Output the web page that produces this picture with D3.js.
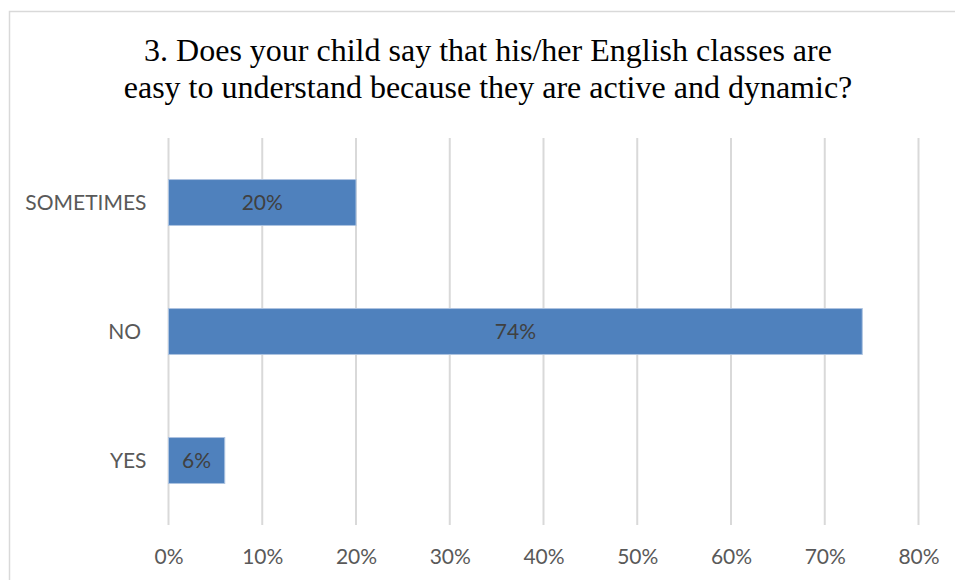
<!DOCTYPE html>
<html>
<head>
<meta charset="utf-8">
<script src="https://cdn.jsdelivr.net/npm/d3@7"></script>
<style>
  html, body { margin: 0; padding: 0; background: #ffffff; }
  svg { display: block; }
</style>
</head>
<body>
<svg id="chart" width="955" height="580"></svg>
<script>
// Survey answers, top to bottom
const categories = ["SOMETIMES", "NO", "YES"];
const shares = [0.20, 0.74, 0.06];
const tickValues = [0, 0.1, 0.2, 0.3, 0.4, 0.5, 0.6, 0.7, 0.8];
const titleLines = [
  "3. Does your child say that his/her English classes are",
  "easy to understand because they are active and dynamic?"
];

const svg = d3.select("#chart");
const W = 955, H = 580;
const plot = { left: 168.5, right: 918.5, top: 138, bottom: 525 };

// Chart frame
svg.append("rect")
  .attr("x", 9.5).attr("y", 11.5)
  .attr("width", W).attr("height", H)
  .attr("fill", "#ffffff")
  .attr("stroke", "#d9d9d9").attr("stroke-width", 1.5);

// Title
svg.append("g")
  .selectAll("text")
  .data(titleLines)
  .join("text")
  .attr("x", 488)
  .attr("y", (d, i) => 61 + i * 36.5)
  .attr("text-anchor", "middle")
  .attr("font-family", "'Liberation Serif', 'Times New Roman', serif")
  .attr("font-size", 32)
  .attr("fill", "#000000")
  .text(d => d);

const x = d3.scaleLinear().domain([0, 0.8]).range([plot.left, plot.right]);
const y = d3.scaleBand()
  .domain(categories)
  .range([plot.top, plot.bottom])
  .paddingInner(0.644)
  .paddingOuter(0.322);

// Vertical gridlines
svg.append("g")
  .selectAll("line")
  .data(tickValues)
  .join("line")
  .attr("x1", d => x(d)).attr("x2", d => x(d))
  .attr("y1", plot.top).attr("y2", plot.bottom)
  .attr("stroke", "#d9d9d9").attr("stroke-width", 2);

// X axis labels
const xAxis = d3.axisBottom(x)
  .tickValues(tickValues)
  .tickFormat(d3.format(".0%"))
  .tickSize(0)
  .tickPadding(0);
const gx = svg.append("g")
  .attr("transform", `translate(0,${plot.bottom})`)
  .call(xAxis);
gx.select(".domain").remove();
gx.selectAll("text")
  .attr("y", 32)
  .attr("dy", "0.35em")
  .attr("font-family", "Lato, 'Open Sans', sans-serif")
  .attr("font-size", 21)
  .attr("fill", "#595959");

// Y axis category labels
const yAxis = d3.axisLeft(y).tickSize(0).tickPadding(0);
const gy = svg.append("g")
  .attr("transform", `translate(${plot.left - 22},0)`)
  .call(yAxis);
gy.select(".domain").remove();
gy.selectAll("text")
  .attr("dy", "0.35em")
  .attr("font-family", "Lato, 'Open Sans', sans-serif")
  .attr("font-size", 21)
  .attr("fill", "#595959")
  .style("white-space", "pre")
  .text(d => d === "NO" ? "NO " : d);

// Bars
const rows = categories.map((c, i) => ({ category: c, value: shares[i] }));
svg.append("g")
  .selectAll("rect")
  .data(rows)
  .join("rect")
  .attr("x", x(0))
  .attr("y", d => y(d.category))
  .attr("width", d => x(d.value) - x(0))
  .attr("height", y.bandwidth())
  .attr("fill", "#4f81bd")
  .attr("stroke", "#adc3e0")
  .attr("stroke-width", 1);

// Value labels centred in each bar
svg.append("g")
  .selectAll("text")
  .data(rows)
  .join("text")
  .attr("x", d => (x(0) + x(d.value)) / 2)
  .attr("y", d => y(d.category) + y.bandwidth() / 2)
  .attr("dy", "0.35em")
  .attr("text-anchor", "middle")
  .attr("font-family", "Lato, 'Open Sans', sans-serif")
  .attr("font-size", 21)
  .attr("fill", "#404040")
  .text(d => d3.format(".0%")(d.value));
</script>
</body>
</html>
